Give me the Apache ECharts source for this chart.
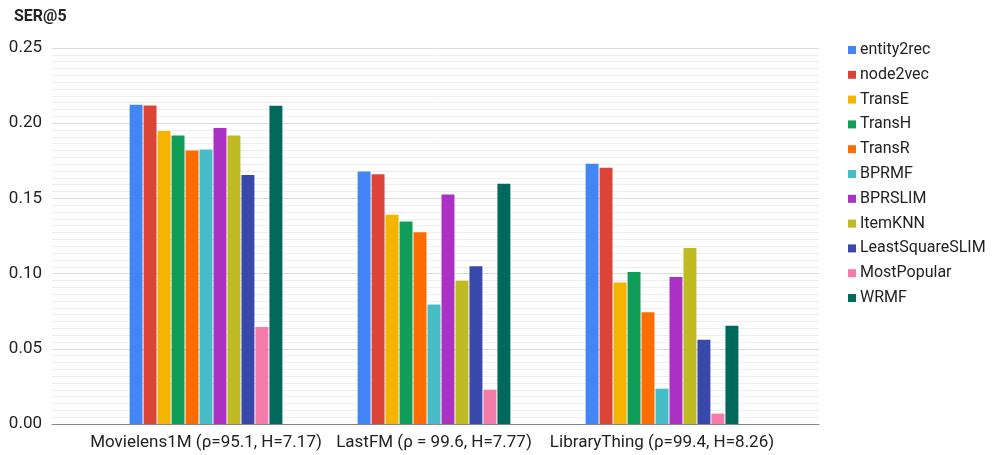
<!DOCTYPE html>
<html>
<head>
<meta charset="utf-8">
<script src="https://cdn.jsdelivr.net/npm/echarts@6/dist/echarts.min.js"></script>
<style>
html,body{margin:0;padding:0;background:#fff;}
#chart{width:997px;height:455px;}
</style>
</head>
<body>
<div id="chart"></div>
<script>
const categories = ['Movielens1M (ρ=95.1, H=7.17)', 'LastFM (ρ = 99.6, H=7.77)', 'LibraryThing (ρ=99.4, H=8.26)'];
const seriesNames = ['entity2rec','node2vec','TransE','TransH','TransR','BPRMF','BPRSLIM','ItemKNN','LeastSquareSLIM','MostPopular','WRMF'];
const colors = ['#4285F4','#DB4437','#F4B400','#0F9D58','#FF6D00','#46BDC6','#AB30C4','#C0BB22','#3949AB','#F47BAA','#00695C'];
const entity2rec = [0.2123, 0.1679, 0.1730];
const node2vec = [0.2118, 0.1661, 0.1703];
const TransE = [0.1948, 0.1391, 0.0940];
const TransH = [0.1919, 0.1346, 0.1011];
const TransR = [0.1819, 0.1275, 0.0743];
const BPRMF = [0.1825, 0.0794, 0.0235];
const BPRSLIM = [0.1968, 0.1526, 0.0978];
const ItemKNN = [0.1919, 0.0952, 0.1171];
const LeastSquareSLIM = [0.1655, 0.1049, 0.0561];
const MostPopular = [0.0645, 0.0228, 0.0069];
const WRMF = [0.2116, 0.1597, 0.0654];
const yTicks = [0, 0.05, 0.10, 0.15, 0.20, 0.25];
const values = [entity2rec,node2vec,TransE,TransH,TransR,BPRMF,BPRSLIM,ItemKNN,LeastSquareSLIM,MostPopular,WRMF];

const yMin = yTicks[0], yMax = yTicks[yTicks.length-1];
const chart = echarts.init(document.getElementById('chart'), null, {renderer:'canvas'});
chart.setOption({
  animation: false,
  textStyle: {fontFamily: 'Roboto'},
  title: {text: 'SER@5', left: 9, top: 4, textStyle: {fontSize: 16, fontWeight: 'bold', color: '#222', fontFamily: 'Roboto'}},
  color: colors,
  legend: {
    orient: 'vertical', left: 843, top: 37,
    icon: 'rect', itemWidth: 8, itemHeight: 8, itemGap: 8.8,
    textStyle: {fontSize: 16, color: '#222', fontFamily: 'Roboto', padding: [0,0,0,-1]},
    data: seriesNames
  },
  grid: [
    {left: 52, right: 178, top: 48, bottom: 31, containLabel: false},
    {left: 92, right: 221, top: 48, bottom: 31, containLabel: false}
  ],
  xAxis: [
    {
      type: 'value', gridIndex: 0, min: 0, max: 1,
      axisLine: {show: true, onZero: false, lineStyle: {color: '#888', width: 1}},
      axisTick: {show: false}, axisLabel: {show: false}, splitLine: {show: false}
    },
    {
      type: 'category', gridIndex: 1, data: categories,
      axisTick: {show: false},
      axisLine: {show: false},
      axisLabel: {fontSize: 17, color: '#222', margin: 10, interval: 0, fontFamily: 'Roboto'}
    }
  ],
  yAxis: [
    {
      type: 'value', gridIndex: 0, min: yMin, max: yMax, interval: 0.05,
      axisLabel: {fontSize: 17, color: '#222', margin: 10, fontFamily: 'Roboto', formatter: v => v.toFixed(2)},
      splitLine: {lineStyle: {color: '#dcdcdc', width: 1}},
      minorTick: {show: false, splitNumber: 11},
      minorSplitLine: {show: true, lineStyle: {color: '#eeeeee', width: 1}},
      axisLine: {show: false}, axisTick: {show: false}
    },
    {
      type: 'value', gridIndex: 1, min: yMin, max: yMax, interval: 0.05,
      axisLabel: {show: false}, splitLine: {show: false},
      axisLine: {show: false}, axisTick: {show: false}
    }
  ],
  series: seriesNames.map((n, i) => ({
    name: n, type: 'bar', data: values[i],
    xAxisIndex: 1, yAxisIndex: 1,
    barGap: '8%', barCategoryGap: '33%',
    itemStyle: {color: colors[i]}
  }))
});
</script>
</body>
</html>
